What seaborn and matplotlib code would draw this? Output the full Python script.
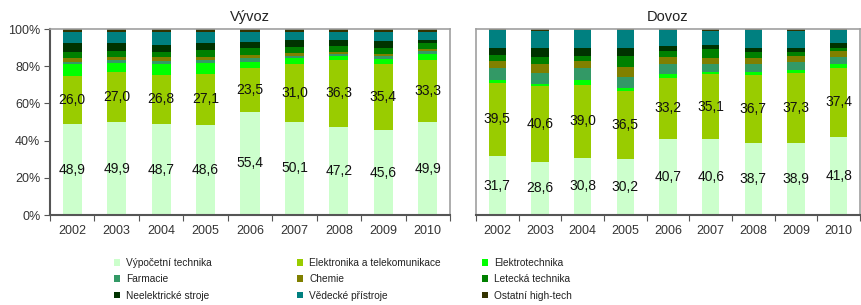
import numpy as np
import pandas as pd
import matplotlib
matplotlib.use("Agg")
import matplotlib.pyplot as plt
from matplotlib.patches import Patch
import seaborn as sns

years = ["2002", "2003", "2004", "2005", "2006", "2007", "2008", "2009", "2010"]
categories = ["Výpočetní technika", "Elektronika a telekomunikace", "Elektrotechnika",
              "Farmacie", "Chemie", "Letecká technika",
              "Neelektrické stroje", "Vědecké přístroje", "Ostatní high-tech"]
colors = ["#CCFFCC", "#99CC00", "#00FF00", "#339966", "#808000", "#008000",
          "#003300", "#008080", "#333300"]

# Vývoz (export) shares, %
vyvoz_vypocetni = [48.9, 49.9, 48.7, 48.6, 55.4, 50.1, 47.2, 45.6, 49.9]
vyvoz_elektronika = [26.0, 27.0, 26.8, 27.1, 23.5, 31.0, 36.3, 35.4, 33.3]
vyvoz_elektrotech = [6.3, 4.7, 5.7, 6.2, 3.5, 3.1, 2.0, 2.7, 3.2]
vyvoz_farmacie = [1.2, 1.7, 1.6, 1.4, 1.8, 1.3, 0.9, 1.8, 1.8]
vyvoz_chemie = [1.8, 1.8, 2.0, 1.8, 1.8, 1.4, 1.4, 0.9, 1.0]
vyvoz_letecka = [3.3, 3.1, 3.0, 3.6, 3.6, 3.6, 3.2, 3.5, 3.1]
vyvoz_neelektricke = [4.8, 4.1, 3.6, 3.6, 3.6, 3.6, 3.1, 3.6, 1.8]
vyvoz_vedecke = [5.9, 6.2, 7.1, 6.2, 5.3, 4.4, 4.4, 5.0, 4.4]
vyvoz_ostatni = [1.8, 1.5, 1.5, 1.5, 1.5, 1.5, 1.5, 1.5, 1.5]

# Dovoz (import) shares, %
dovoz_vypocetni = [31.7, 28.6, 30.8, 30.2, 40.7, 40.6, 38.7, 38.9, 41.8]
dovoz_elektronika = [39.5, 40.6, 39.0, 36.5, 33.2, 35.1, 36.7, 37.3, 37.4]
dovoz_elektrotech = [1.5, 1.1, 2.8, 1.7, 1.7, 1.3, 1.6, 1.8, 1.8]
dovoz_farmacie = [6.3, 5.9, 6.3, 6.0, 5.4, 4.0, 4.0, 4.4, 4.1]
dovoz_chemie = [3.8, 4.8, 3.9, 5.3, 4.1, 3.6, 3.2, 3.1, 3.1]
dovoz_letecka = [3.2, 4.1, 2.8, 5.9, 3.1, 4.6, 3.3, 2.3, 1.7]
dovoz_neelektricke = [3.9, 4.5, 4.3, 4.3, 2.8, 2.2, 2.4, 1.8, 2.4]
dovoz_vedecke = [9.6, 9.5, 9.6, 9.6, 8.5, 7.6, 9.6, 9.4, 7.2]
dovoz_ostatni = [0.5, 0.9, 0.5, 0.5, 0.5, 1.0, 0.5, 1.0, 0.5]

vyvoz = [vyvoz_vypocetni, vyvoz_elektronika, vyvoz_elektrotech, vyvoz_farmacie,
         vyvoz_chemie, vyvoz_letecka, vyvoz_neelektricke, vyvoz_vedecke, vyvoz_ostatni]
dovoz = [dovoz_vypocetni, dovoz_elektronika, dovoz_elektrotech, dovoz_farmacie,
         dovoz_chemie, dovoz_letecka, dovoz_neelektricke, dovoz_vedecke, dovoz_ostatni]

sns.set_style("white")
plt.rcParams["font.family"] = ["Liberation Sans", "DejaVu Sans"]

fig = plt.figure(figsize=(8.61, 3.05), dpi=100)
ax1 = fig.add_axes([50 / 861, 1 - 215 / 305, 400 / 861, 186 / 305])
ax2 = fig.add_axes([476 / 861, 1 - 215 / 305, 384 / 861, 186 / 305])

tick_col = "#333333"


def draw(ax, series, width, title, show_y):
    arr = np.array(series, dtype=float)
    cum = np.cumsum(arr, axis=0)
    # draw from top-most cumulative layer down so lower layers overlay
    for k in range(len(series) - 1, -1, -1):
        df = pd.DataFrame({"year": years, "val": cum[k]})
        sns.barplot(data=df, x="year", y="val", order=years, color=colors[k],
                    saturation=1, width=width, errorbar=None, linewidth=0, ax=ax)
    # value labels for first two series
    for k in range(2):
        bottoms = cum[k] - arr[k]
        for i, v in enumerate(arr[k]):
            ax.text(i, bottoms[i] + v / 2, f"{v:.1f}".replace(".", ","),
                    ha="center", va="center", fontsize=10, color="#111111")
    ax.set_xlim(-0.5, len(years) - 0.5)
    ax.set_ylim(0, 100)
    ax.set_xlabel("")
    ax.set_ylabel("")
    ax.set_title(title, fontsize=10.5, color="#222222", pad=6)
    ax.tick_params(axis="x", which="major", length=0, pad=7, labelsize=9,
                   labelcolor=tick_col)
    ax.set_xticks(np.arange(-0.5, len(years), 1), minor=True)
    ax.tick_params(axis="x", which="minor", length=4, width=0.8, color="#555555",
                   direction="out", bottom=True)
    for s in ["top", "right"]:
        ax.spines[s].set_color("#A0A0A0")
        ax.spines[s].set_linewidth(1.2)
    ax.spines["bottom"].set_color("#555555")
    ax.spines["bottom"].set_linewidth(1.5)
    if show_y:
        ax.spines["left"].set_color("#555555")
        ax.spines["left"].set_linewidth(1.5)
        ax.set_yticks([0, 20, 40, 60, 80, 100])
        ax.set_yticklabels([f"{t}%" for t in [0, 20, 40, 60, 80, 100]])
        ax.tick_params(axis="y", length=4, width=0.8, color="#555555", pad=3,
                       labelsize=9, labelcolor=tick_col, left=True)
    else:
        ax.spines["left"].set_color("#A0A0A0")
        ax.spines["left"].set_linewidth(1.2)
        ax.set_yticks([])
    ax.grid(False)


draw(ax1, vyvoz, 0.43, "Vývoz", True)
draw(ax2, dovoz, 0.40, "Dovoz", False)

# legend: three columns, row-major order as in reference
col_x = [114, 297, 482]
for c in range(3):
    idx = [c, c + 3, c + 6]
    handles = [Patch(facecolor=colors[j], edgecolor="none") for j in idx]
    labels = [categories[j] for j in idx]
    fig.legend(handles, labels, loc="upper left",
               bbox_to_anchor=(col_x[c] / 861, 1 - 258 / 305),
               frameon=False, fontsize=7.3, handlelength=0.6, handleheight=0.6,
               handletextpad=0.6, labelspacing=0.62, borderpad=0,
               borderaxespad=0, labelcolor="#222222")

fig.savefig("out.png", dpi=100, facecolor="white")
